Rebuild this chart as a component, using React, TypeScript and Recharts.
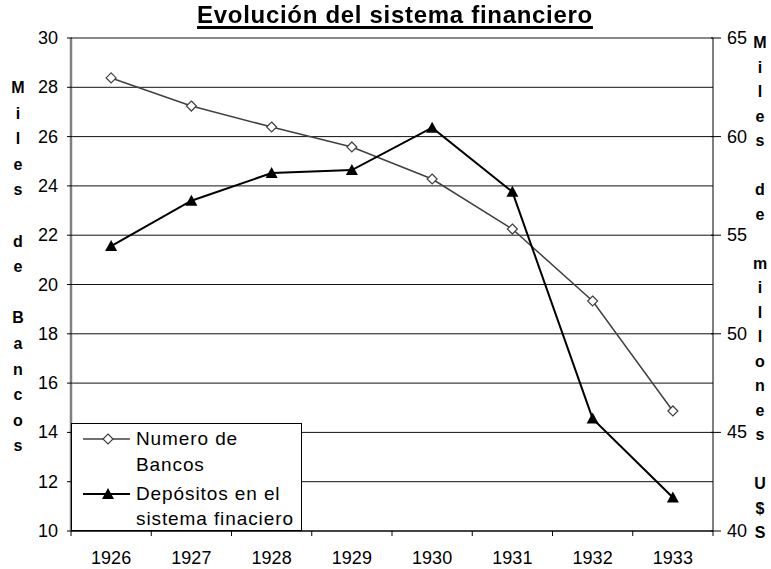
import { LineChart, Line, XAxis, YAxis, CartesianGrid } from 'recharts';

const years = ['1926', '1927', '1928', '1929', '1930', '1931', '1932', '1933'];
const numeroBancos = [28.38, 27.24, 26.39, 25.58, 24.28, 22.25, 19.33, 14.87];
const depositos = [54.45, 56.75, 58.15, 58.3, 60.45, 57.2, 45.7, 41.7];
const leftTicks = [10, 12, 14, 16, 18, 20, 22, 24, 26, 28, 30];
const rightTicks = [40, 45, 50, 55, 60, 65];
const leftLetters = ['M', 'i', 'l', 'e', 's', '', 'd', 'e', '', 'B', 'a', 'n', 'c', 'o', 's'];
const rightLetters = ['M', 'i', 'l', 'e', 's', '', 'd', 'e', '', 'm', 'i', 'l', 'l', 'o', 'n', 'e', 's', '', 'U', '$', 'S'];

const data = years.map((year, i) => ({
  year,
  bancos: numeroBancos[i],
  depositos: depositos[i],
}));

const FONT = "Arial, 'Liberation Sans', sans-serif";

const Diamond = (props: any) => {
  const { cx, cy } = props;
  if (cx == null || cy == null) return null;
  return (
    <path
      d={`M${cx},${cy - 5} L${cx + 5},${cy} L${cx},${cy + 5} L${cx - 5},${cy} Z`}
      fill="#fff"
      stroke="#404040"
      strokeWidth={1.2}
    />
  );
};

const Triangle = (props: any) => {
  const { cx, cy } = props;
  if (cx == null || cy == null) return null;
  return <path d={`M${cx},${cy - 6} L${cx + 6},${cy + 5} L${cx - 6},${cy + 5} Z`} fill="#000" />;
};

const XTick = (props: any) => {
  const { x, y, payload, index } = props;
  const off = payload.offset || 0;
  return (
    <g>
      <line x1={x - off} y1={y - 8} x2={x - off} y2={y - 3} stroke="#000" />
      {index === years.length - 1 && (
        <line x1={x + off} y1={y - 8} x2={x + off} y2={y - 3} stroke="#000" />
      )}
      <text x={x} y={y + 25} textAnchor="middle" fontSize={18} fontFamily={FONT} fill="#000">
        {payload.value}
      </text>
    </g>
  );
};

const RightTick = (props: any) => {
  const { x, y, payload } = props;
  return (
    <g>
      <line x1={x - 10} y1={y} x2={x} y2={y} stroke="#000" />
      <text x={x + 6} y={y + 6} textAnchor="start" fontSize={18} fontFamily={FONT} fill="#000">
        {payload.value}
      </text>
    </g>
  );
};

const LeftTick = (props: any) => {
  const { x, y, payload } = props;
  return (
    <g>
      <line x1={x + 4} y1={y} x2={x + 9} y2={y} stroke="#000" />
      <text x={x - 5} y={y + 6} textAnchor="end" fontSize={18} fontFamily={FONT} fill="#000">
        {payload.value}
      </text>
    </g>
  );
};

const stackedLabel = (letters: string[], x: number, y0: number, step: number) => () => (
  <text fontSize={16} fontWeight="bold" fontFamily={FONT} textAnchor="middle" fill="#000">
    {letters.map((ch, i) =>
      ch ? (
        <tspan key={i} x={x} y={y0 + i * step}>
          {ch}
        </tspan>
      ) : null
    )}
  </text>
);

const LegendBox = () => (
  <svg
    width={231}
    height={108}
    style={{ position: 'absolute', left: 71, top: 423, zIndex: 2 }}
    fontFamily={FONT}
    fontSize={19}
  >
    <rect x={0.5} y={0.5} width={230} height={107} fill="#fff" stroke="#000" />
    <line x1={12} y1={16} x2={59} y2={16} stroke="#404040" strokeWidth={1.5} />
    <path d="M37,11 L42,16 L37,21 L32,16 Z" fill="#fff" stroke="#404040" strokeWidth={1.2} />
    <line x1={12} y1={71} x2={59} y2={71} stroke="#000" strokeWidth={2} />
    <path d="M37,65 L43,76 L31,76 Z" fill="#000" />
    <text x={65} y={22} letterSpacing={0.9}>Numero de</text>
    <text x={65} y={48} letterSpacing={0.9}>Bancos</text>
    <text x={65} y={77} letterSpacing={0.9}>Depósitos en el</text>
    <text x={65} y={102} letterSpacing={0.9}>sistema finaciero</text>
  </svg>
);

export default function App() {
  return (
    <div style={{ position: 'fixed', left: 0, top: 0, width: 771, height: 569, background: '#fff' }}>
      <div
        style={{
          position: 'absolute',
          left: 0,
          width: 790,
          top: 0,
          textAlign: 'center',
          fontFamily: FONT,
          fontWeight: 'bold',
          fontSize: 24,
          letterSpacing: 0.7,
          lineHeight: '30px',
          textDecoration: 'underline',
          textDecorationThickness: 3,
          textUnderlineOffset: 3,
          zIndex: 2,
        }}
      >
        Evolución del sistema financiero
      </div>
      <LineChart width={771} height={569} data={data} margin={{ top: 38, right: 0, bottom: 0, left: 0 }}>
        <CartesianGrid yAxisId="left" vertical={false} stroke="#111" strokeWidth={1} />
        <XAxis
          dataKey="year"
          scale="band"
          height={38}
          tickLine={false}
          axisLine={{ stroke: '#000' }}
          tick={<XTick />}
          interval={0}
        />
        <YAxis
          yAxisId="left"
          orientation="left"
          width={71}
          domain={[10, 30]}
          ticks={leftTicks}
          interval={0}
          tickLine={false}
          axisLine={{ stroke: '#808080', strokeWidth: 2.5 }}
          tick={<LeftTick />}
          label={{ content: stackedLabel(leftLetters, 18, 93, 25.6) }}
        />
        <YAxis
          yAxisId="right"
          orientation="right"
          width={58}
          domain={[40, 65]}
          ticks={rightTicks}
          interval={0}
          tickLine={false}
          axisLine={{ stroke: '#000' }}
          tick={<RightTick />}
          label={{ content: stackedLabel(rightLetters, 760, 48, 24.5) }}
        />
        <Line
          yAxisId="left"
          type="linear"
          dataKey="bancos"
          name="Numero de Bancos"
          stroke="#404040"
          strokeWidth={1.5}
          dot={<Diamond />}
          activeDot={false}
          isAnimationActive={false}
        />
        <Line
          yAxisId="right"
          type="linear"
          dataKey="depositos"
          name="Depósitos en el sistema finaciero"
          stroke="#000"
          strokeWidth={2}
          dot={<Triangle />}
          activeDot={false}
          isAnimationActive={false}
        />
      </LineChart>
      <LegendBox />
    </div>
  );
}
